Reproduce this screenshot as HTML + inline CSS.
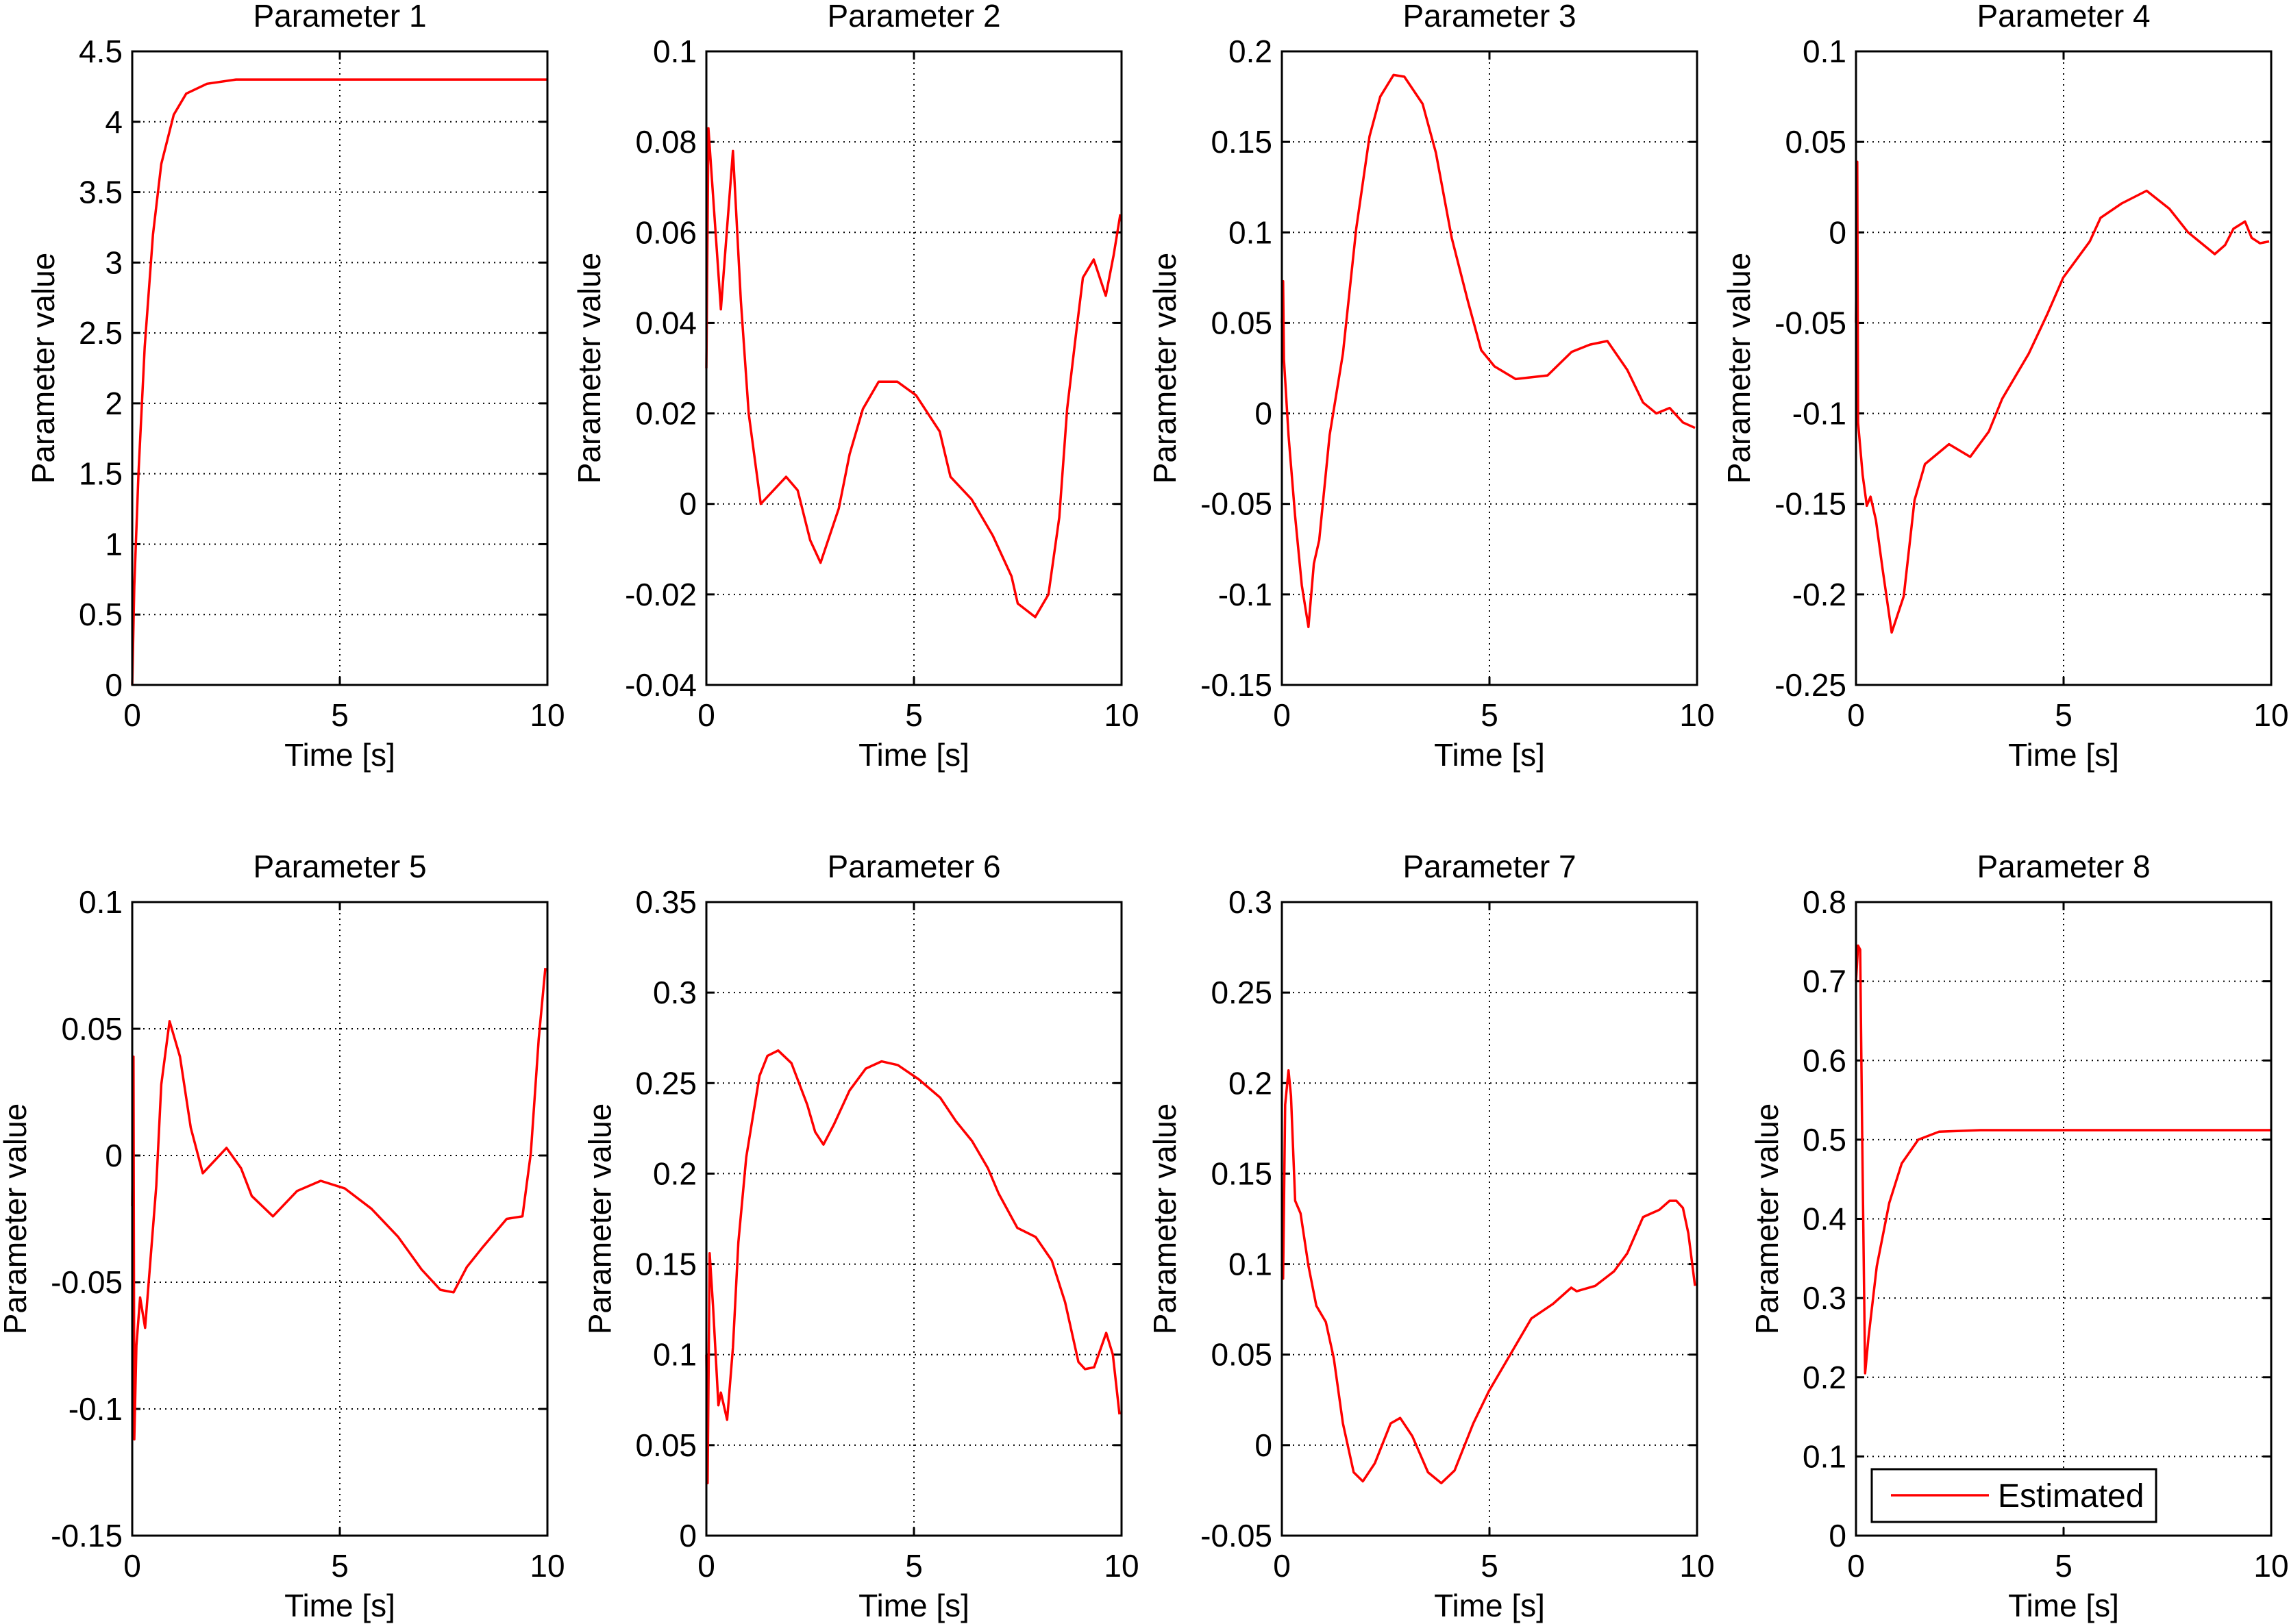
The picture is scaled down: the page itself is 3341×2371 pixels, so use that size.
<!DOCTYPE html>
<html><head><meta charset="utf-8"><style>
html,body{margin:0;padding:0;background:#fff}
svg{display:block}
text{font-family:"Liberation Sans",Arial,sans-serif;fill:#000}
</style></head><body>
<svg id="fig" width="3341" height="2371" viewBox="0 0 3341 2371" xmlns="http://www.w3.org/2000/svg"></svg>
<script>
// ---- data (time, value) per parameter ----
const p1t=[0,0.05,0.15,0.3,0.5,0.7,1,1.3,1.8,2.5,10];
const p1v=[0,0.7,1.5,2.4,3.2,3.7,4.05,4.2,4.27,4.3,4.3];
const p2t=[0,0.05,0.35,0.64,0.83,1.02,1.31,1.92,2.2,2.5,2.75,3.19,3.45,3.77,4.15,4.6,5.05,5.62,5.88,6.39,6.9,7.35,7.5,7.92,8.24,8.5,8.69,8.91,9.07,9.33,9.62,9.81,9.97];
const p2v=[0.03,0.083,0.043,0.078,0.045,0.02,0.0,0.006,0.003,-0.008,-0.013,-0.001,0.011,0.021,0.027,0.027,0.024,0.016,0.006,0.001,-0.007,-0.016,-0.022,-0.025,-0.02,-0.003,0.021,0.038,0.05,0.054,0.046,0.055,0.064];
const p3t=[0,0.03,0.05,0.16,0.32,0.48,0.64,0.77,0.9,1.15,1.47,1.79,2.11,2.37,2.69,2.95,3.39,3.71,4.09,4.48,4.8,5.12,5.63,6.4,6.98,7.42,7.84,8.32,8.7,9.02,9.34,9.66,9.95];
const p3v=[0.05,0.073,0.03,-0.012,-0.057,-0.095,-0.118,-0.083,-0.07,-0.012,0.033,0.102,0.153,0.175,0.187,0.186,0.171,0.144,0.097,0.062,0.035,0.026,0.019,0.021,0.034,0.038,0.04,0.024,0.006,0.0,0.003,-0.005,-0.008];
const p4t=[0,0.03,0.05,0.16,0.26,0.35,0.48,0.64,0.86,1.15,1.41,1.66,2.24,2.75,3.2,3.52,4.16,4.61,4.99,5.63,5.89,6.4,7.0,7.55,8.0,8.32,8.64,8.89,9.09,9.37,9.53,9.73,9.95];
const p4v=[-0.05,0.039,-0.105,-0.134,-0.151,-0.146,-0.159,-0.186,-0.221,-0.201,-0.148,-0.128,-0.117,-0.124,-0.11,-0.092,-0.067,-0.045,-0.025,-0.005,0.008,0.016,0.023,0.013,0.0,-0.006,-0.012,-0.007,0.002,0.006,-0.003,-0.006,-0.005];
const p5t=[0,0.03,0.05,0.1,0.19,0.31,0.58,0.7,0.9,1.15,1.41,1.7,2.27,2.62,2.88,3.39,3.97,4.54,5.12,5.76,6.4,6.97,7.42,7.74,8.06,8.45,9.02,9.4,9.6,9.79,9.95];
const p5v=[-0.02,0.039,-0.112,-0.075,-0.056,-0.068,-0.012,0.028,0.053,0.039,0.011,-0.007,0.003,-0.005,-0.016,-0.024,-0.014,-0.01,-0.013,-0.021,-0.032,-0.045,-0.053,-0.054,-0.044,-0.036,-0.025,-0.024,0.001,0.046,0.074];
const p6t=[0,0.03,0.08,0.16,0.29,0.35,0.5,0.64,0.77,0.96,1.28,1.47,1.73,2.05,2.43,2.62,2.82,3.07,3.45,3.84,4.22,4.61,5.12,5.63,6.01,6.4,6.78,7.04,7.49,7.93,8.32,8.64,8.96,9.12,9.34,9.63,9.79,9.95];
const p6v=[0.1,0.029,0.156,0.127,0.072,0.079,0.064,0.104,0.162,0.209,0.254,0.265,0.268,0.261,0.238,0.223,0.216,0.227,0.246,0.258,0.262,0.26,0.252,0.242,0.229,0.218,0.203,0.189,0.17,0.165,0.152,0.129,0.096,0.092,0.093,0.112,0.1,0.067];
const p7t=[0,0.03,0.08,0.16,0.22,0.32,0.45,0.64,0.83,1.06,1.25,1.47,1.73,1.95,2.24,2.62,2.85,3.14,3.52,3.84,4.16,4.61,4.99,5.5,6.01,6.53,6.97,7.1,7.55,8.0,8.32,8.7,9.09,9.34,9.5,9.66,9.79,9.95];
const p7v=[0.1,0.092,0.188,0.207,0.193,0.135,0.128,0.099,0.077,0.068,0.048,0.012,-0.015,-0.02,-0.01,0.012,0.015,0.005,-0.015,-0.021,-0.014,0.012,0.03,0.05,0.07,0.078,0.087,0.085,0.088,0.096,0.106,0.126,0.13,0.135,0.135,0.131,0.117,0.088];
const p8t=[0,0.05,0.1,0.15,0.22,0.3,0.5,0.8,1.1,1.5,2,3,10];
const p8v=[0.7,0.745,0.74,0.5,0.205,0.25,0.34,0.42,0.47,0.5,0.51,0.512,0.512];
const yTicks1=["0","0.5","1","1.5","2","2.5","3","3.5","4","4.5"];
const yTicks2=["-0.04","-0.02","0","0.02","0.04","0.06","0.08","0.1"];
const yTicks3=["-0.15","-0.1","-0.05","0","0.05","0.1","0.15","0.2"];
const yTicks4=["-0.25","-0.2","-0.15","-0.1","-0.05","0","0.05","0.1"];
const yTicks5=["-0.15","-0.1","-0.05","0","0.05","0.1"];
const yTicks6=["0","0.05","0.1","0.15","0.2","0.25","0.3","0.35"];
const yTicks7=["-0.05","0","0.05","0.1","0.15","0.2","0.25","0.3"];
const yTicks8=["0","0.1","0.2","0.3","0.4","0.5","0.6","0.7","0.8"];
const xTicks=["0","5","10"];

const NS="http://www.w3.org/2000/svg";
const svg=document.getElementById('fig');
function mk(tag,attrs,parent){const e=document.createElementNS(NS,tag);for(const k in attrs)e.setAttribute(k,attrs[k]);(parent||svg).appendChild(e);return e;}
const lefts=[193,1031,1871,2709], tops=[75,1317], W=606, H=925, FS=46;
const panels=[[p1t,p1v,yTicks1],[p2t,p2v,yTicks2],[p3t,p3v,yTicks3],[p4t,p4v,yTicks4],[p5t,p5v,yTicks5],[p6t,p6v,yTicks6],[p7t,p7v,yTicks7],[p8t,p8v,yTicks8]];
panels.forEach((p,i)=>{
  const L=lefts[i%4],T=tops[Math.floor(i/4)],B=T+H,R=L+W;
  const yt=p[2].map(Number), y0=yt[0], y1=yt[yt.length-1];
  const sx=t=>L+(t-0)/(10-0)*W, sy=v=>B-(v-y0)/(y1-y0)*H;
  const g=mk('g',{});
  
  
  xTicks.forEach(s=>{const x=sx(Number(s));
    const gl=mk('line',{x1:x,x2:x,y1:T,y2:B,stroke:'#000','stroke-width':2,'stroke-dasharray':'2,6'},g);
    
    
    mk('line',{x1:x,x2:x,y1:B,y2:B-12,stroke:'#000','stroke-width':3},g);
    mk('line',{x1:x,x2:x,y1:T,y2:T+12,stroke:'#000','stroke-width':3},g);
    const tx=mk('text',{x:x,y:B+60,'font-size':FS,'text-anchor':'middle'},g);tx.textContent=s;
    
    
  });
  let maxW=0;
  p[2].forEach(s=>{const y=sy(Number(s));
    const gl=mk('line',{x1:L,x2:R,y1:y,y2:y,stroke:'#000','stroke-width':2,'stroke-dasharray':'2,6'},g);
    
    
    mk('line',{x1:L,x2:L+12,y1:y,y2:y,stroke:'#000','stroke-width':3},g);
    mk('line',{x1:R,x2:R-12,y1:y,y2:y,stroke:'#000','stroke-width':3},g);
    const tx=mk('text',{x:L-14,y:y+16,'font-size':FS,'text-anchor':'end'},g);tx.textContent=s;
    
    
    maxW=Math.max(maxW,tx.getComputedTextLength());
  });
  const d=p[0].map((t,j)=>(j?'L':'M')+sx(t).toFixed(1)+','+sy(p[1][j]).toFixed(1)).join(' ');
  const ln=mk('path',{d:d,fill:'none',stroke:'#ff0000','stroke-width':3.5,'stroke-linejoin':'round'},g);
  
  
  const box=mk('rect',{x:L,y:T,width:W,height:H,fill:'none',stroke:'#000','stroke-width':3},g);
  
  
  const ti=mk('text',{x:L+W/2,y:T-36,'font-size':FS,'text-anchor':'middle'},g);ti.textContent='Parameter '+(i+1);
  
  
  const xl=mk('text',{x:L+W/2,y:B+118,'font-size':FS,'text-anchor':'middle'},g);xl.textContent='Time [s]';
  
  
  const yx=L-maxW-14-36, yc=T+H/2;
  const yl=mk('text',{x:yx,y:yc,'font-size':FS,'text-anchor':'middle',transform:'rotate(-90 '+yx+' '+yc+')'},g);yl.textContent='Parameter value';
  
  
  if(i===7){
    const lg=mk('g',{},g);
    
    
    mk('rect',{x:2732,y:2145,width:415,height:77,fill:'#fff',stroke:'#000','stroke-width':3},lg);
    const ll=mk('line',{x1:2760,x2:2903,y1:2183,y2:2183,stroke:'#ff0000','stroke-width':3.5},lg);
    
    
    const lt=mk('text',{x:2916,y:2200,'font-size':48},lg);lt.textContent='Estimated';
    
    
  }
});
</script>
</body></html>
